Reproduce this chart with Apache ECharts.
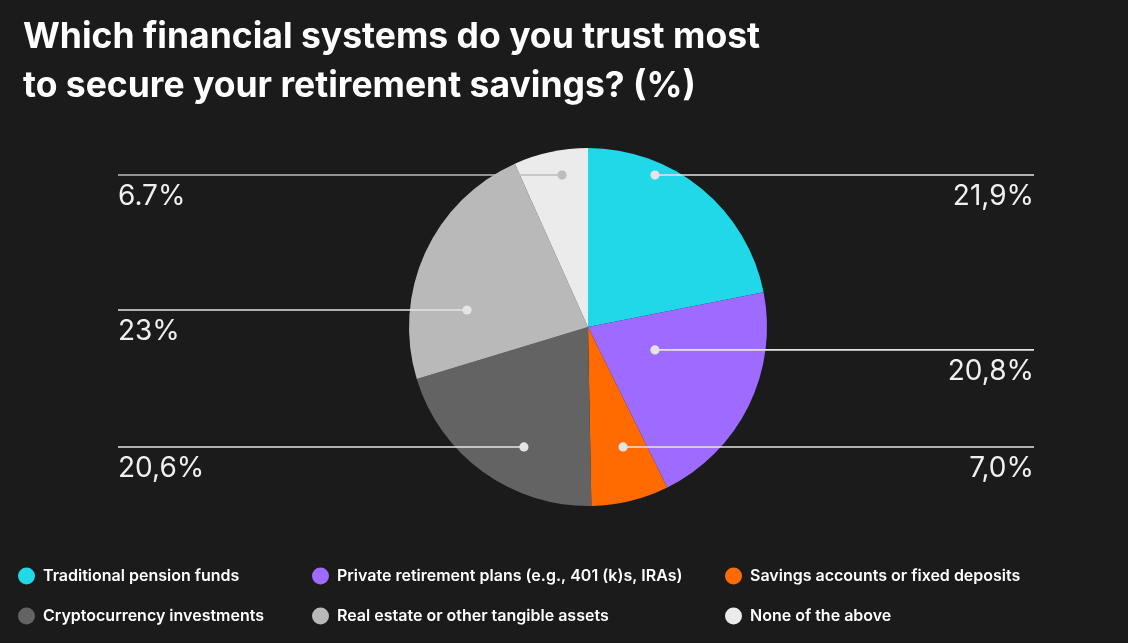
<!DOCTYPE html>
<html><head><meta charset="utf-8">
<script src="https://cdn.jsdelivr.net/npm/echarts@6/dist/echarts.min.js"></script>
<style>html,body{margin:0;padding:0;background:#1b1b1b}#c{width:1128px;height:643px}</style>
</head><body><div id="c"></div>
<script>
// ---- data ----
const categories = [
  'Traditional pension funds',
  'Private retirement plans (e.g., 401 (k)s, IRAs)',
  'Savings accounts or fixed deposits',
  'Cryptocurrency investments',
  'Real estate or other tangible assets',
  'None of the above'
];
const values = [21.9, 20.8, 7.0, 20.6, 23, 6.7];
const valueLabels = ['21,9%', '20,8%', '7,0%', '20,6%', '23%', '6.7%'];

// ---- style / layout ----
const colors = ['#20d8e8', '#9d6bff', '#ff6b00', '#636363', '#b9b9b9', '#ebebeb'];
const lineColors = ['#e4e4e4', '#e4e4e4', '#e4e4e4', '#e4e4e4', '#e4e4e4', '#bdbdbd'];
// anchor of each leader line inside its slice, relative to the pie centre, in radius units
const anchors = [[0.374, -0.849], [0.374, 0.128], [0.196, 0.670], [-0.358, 0.670], [-0.676, -0.095], [-0.145, -0.849]];
const sides = ['right', 'right', 'right', 'left', 'left', 'left'];
const CX = 588, CY = 327, R = 179, LEFT_X = 118, RIGHT_X = 1034;
const legendPos = [[18, 567.5], [312, 567.5], [725, 567.5], [18, 607.5], [312, 607.5], [725, 607.5]];

const chart = echarts.init(document.getElementById('c'), null, {renderer: 'canvas'});

const legends = categories.map((name, i) => ({
  left: legendPos[i][0], top: legendPos[i][1], padding: 0,
  data: [name], icon: 'circle', itemWidth: 17, itemHeight: 17,
  selectedMode: false,
  textStyle: {color: '#ffffff', fontSize: 16, fontWeight: 600, fontFamily: 'Inter', padding: [0, 0, 0, 3]}
}));

const leaders = [];
anchors.forEach((a, i) => {
  const ax = CX + a[0] * R, ay = CY + a[1] * R;
  const ex = sides[i] === 'right' ? RIGHT_X : LEFT_X;
  leaders.push({
    type: 'line', z: 100, silent: true,
    shape: {x1: ax, y1: ay, x2: ex, y2: ay},
    style: {stroke: lineColors[i], lineWidth: 1.6}
  });
  leaders.push({
    type: 'circle', z: 101, silent: true,
    shape: {cx: ax, cy: ay, r: 4.6},
    style: {fill: lineColors[i]}
  });
});

chart.setOption({
  backgroundColor: '#1b1b1b',
  animation: false,
  title: {
    text: 'Which financial systems do you trust most\nto secure your retirement savings? (%)',
    left: 18, top: 8,
    textStyle: {color: '#ffffff', fontSize: 35.5, fontWeight: 'bold', fontFamily: 'Inter', lineHeight: 49}
  },
  legend: legends,
  graphic: leaders,
  series: [{
    type: 'pie',
    center: [CX, CY],
    radius: R,
    startAngle: 90,
    clockwise: true,
    avoidLabelOverlap: false,
    data: categories.map((name, i) => ({
      name, value: values[i],
      itemStyle: {color: colors[i]}
    })),
    label: {
      show: true,
      position: 'outside',
      formatter: p => valueLabels[p.dataIndex],
      color: '#f0f0f0', fontSize: 28, fontFamily: 'Inter', fontWeight: 400
    },
    labelLine: {show: false},
    labelLayout: function (p) {
      const i = p.dataIndex, a = anchors[i];
      const ay = CY + a[1] * R;
      const right = sides[i] === 'right';
      return {
        x: right ? RIGHT_X : LEFT_X, y: ay + 22,
        align: right ? 'right' : 'left', verticalAlign: 'middle'
      };
    },
    emphasis: {disabled: true}
  }]
});
</script>
</body></html>
